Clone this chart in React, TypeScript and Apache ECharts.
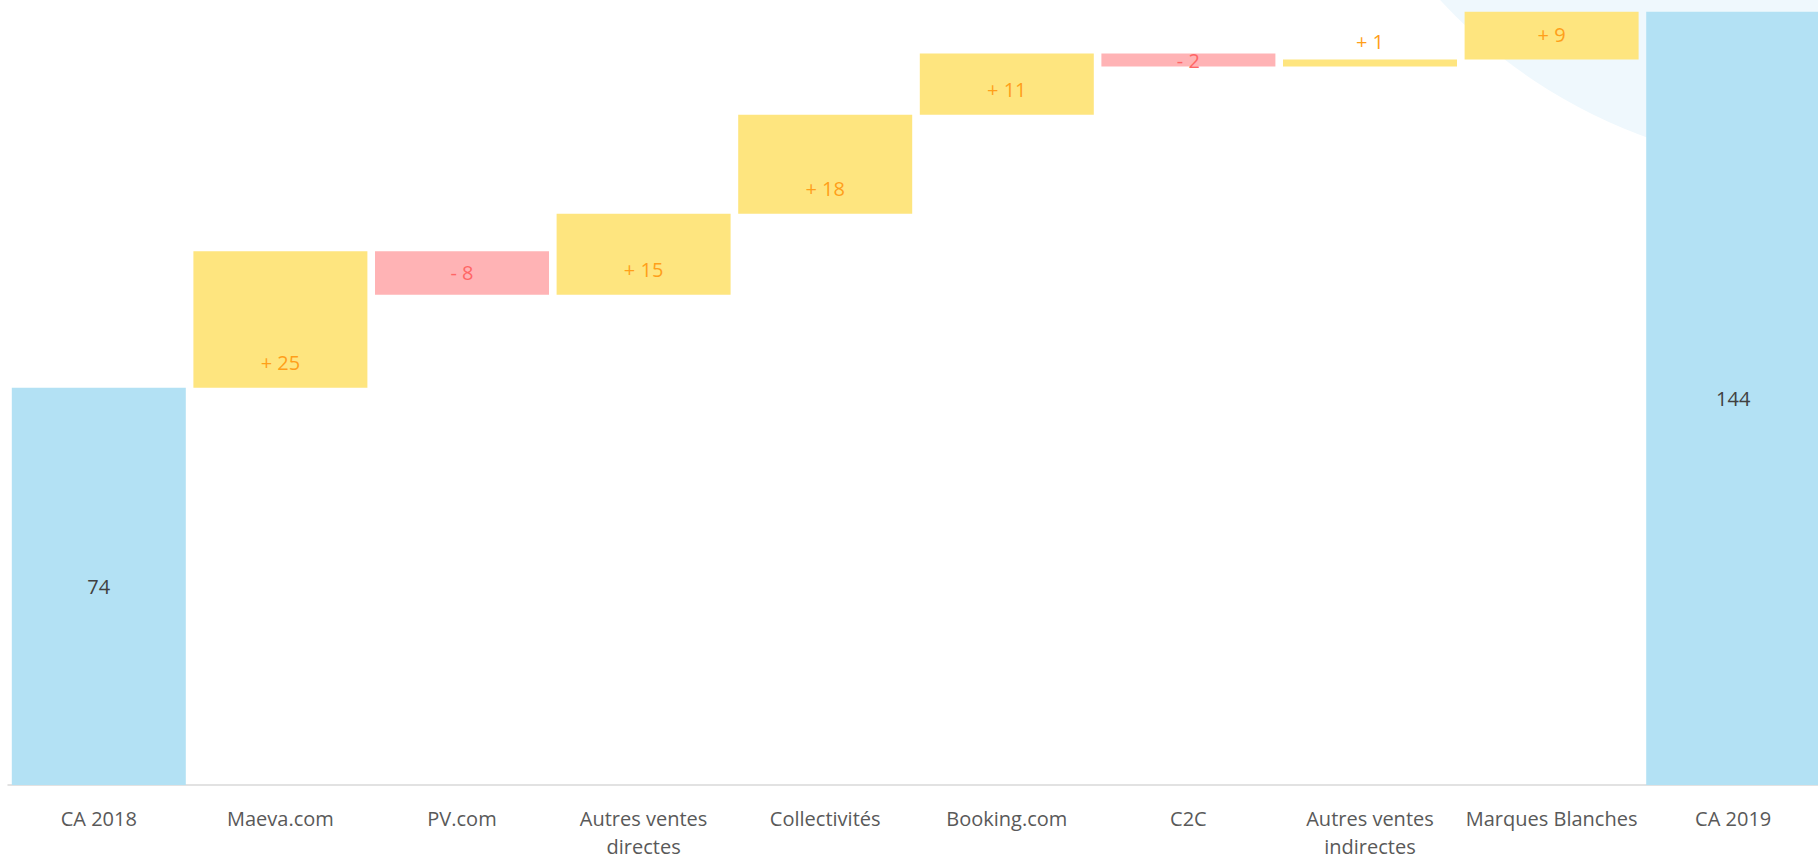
import React, { useEffect, useRef } from "react";
import * as echarts from "echarts";

const categories = [
  "CA 2018",
  "Maeva.com",
  "PV.com",
  "Autres ventes directes",
  "Collectivités",
  "Booking.com",
  "C2C",
  "Autres ventes indirectes",
  "Marques Blanches",
  "CA 2019",
];
const startTotal = 74;
const deltas = [25.4, -8.1, 15.1, 18.4, 11.4, -2.4, 1.3, 8.9];
const endTotal = 144;

const BLUE = "#B3E1F4";
const YELLOW = "#FEE57F";
const PINK = "#FFB3B5";
const ORANGE_TEXT = "#FF9F1A";
const RED_TEXT = "#FF6666";
const TOTAL_TEXT = "#404040";
const FONT = "Open Sans";

export default function App() {
  const ref = useRef<HTMLDivElement>(null);

  useEffect(() => {
    if (!ref.current) return;
    const chart = echarts.init(ref.current, null, { renderer: "svg" });

    const baseData: any[] = [];
    const valueData: any[] = [];

    baseData.push(0);
    valueData.push({
      value: startTotal,
      itemStyle: { color: BLUE },
      label: { show: true, position: "inside", color: TOTAL_TEXT, formatter: String(Math.round(startTotal)) },
    });

    let running = startTotal;
    deltas.forEach((d) => {
      const pos = d >= 0;
      baseData.push(pos ? running : running + d);
      const txt = (pos ? "+ " : "- ") + Math.round(Math.abs(d));
      valueData.push({
        value: Math.abs(d),
        itemStyle: { color: pos ? YELLOW : PINK },
        label: pos
          ? {
              show: true,
              position: ["50%", "100%"],
              align: "center",
              verticalAlign: "middle",
              offset: [0, -25.5],
              color: ORANGE_TEXT,
              formatter: txt,
            }
          : {
              show: true,
              position: "inside",
              color: RED_TEXT,
              formatter: txt,
            },
      });
      running += d;
    });

    baseData.push(0);
    valueData.push({
      value: endTotal,
      itemStyle: { color: BLUE },
      label: { show: true, position: "inside", color: TOTAL_TEXT, formatter: String(Math.round(endTotal)) },
    });

    chart.setOption({
      animation: false,
      backgroundColor: "#ffffff",
      textStyle: { fontFamily: FONT },
      graphic: [
        {
          type: "circle",
          silent: true,
          z: -10,
          shape: { cx: 1822, cy: -350, r: 518 },
          style: { fill: "#EFF8FD" },
        },
      ],
      grid: { left: 8, right: 2, top: 1, bottom: 70.7, containLabel: false },
      xAxis: {
        type: "category",
        data: categories,
        axisTick: { show: false },
        axisLine: { lineStyle: { color: "#D9D9D9", width: 1.5 } },
        axisLabel: {
          interval: 0,
          margin: 20,
          fontSize: 20,
          lineHeight: 27.5,
          color: "#595959",
          fontFamily: FONT,
          formatter: (v: string) => v.replace("Autres ventes ", "Autres ventes\n"),
        },
      },
      yAxis: {
        type: "value",
        min: 0,
        max: 146,
        show: false,
        splitLine: { show: false },
      },
      series: [
        {
          name: "base",
          type: "bar",
          stack: "total",
          barWidth: 174,
          itemStyle: { color: "transparent" },
          silent: true,
          data: baseData,
        },
        {
          name: "value",
          type: "bar",
          stack: "total",
          barWidth: 174,
          label: { fontSize: 20, fontFamily: FONT },
          data: valueData,
        },
      ],
    });

    return () => chart.dispose();
  }, []);

  return (
    <div
      ref={ref}
      style={{ position: "fixed", left: 0, top: 0, width: 1826, height: 860, background: "#fff" }}
    />
  );
}
